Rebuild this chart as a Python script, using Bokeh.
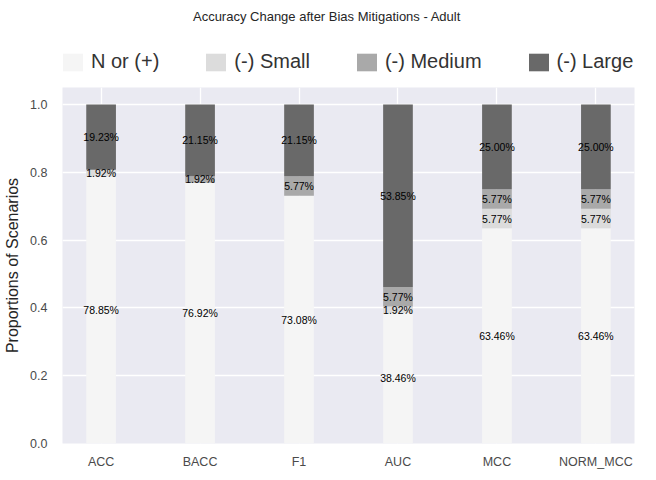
from bokeh.plotting import figure
from bokeh.layouts import column
from bokeh.models import (ColumnDataSource, Range1d, FixedTicker, PrintfTickFormatter,
                          Legend, LegendItem, Label)
from bokeh.core.properties import value
from bokeh.embed import file_html
from bokeh.resources import INLINE
import numpy as np

categories = ["ACC", "BACC", "F1", "AUC", "MCC", "NORM_MCC"]
n_or_pos = [78.85, 76.92, 73.08, 38.46, 63.46, 63.46]
small = [1.92, 0.0, 0.0, 1.92, 5.77, 5.77]
medium = [0.0, 1.92, 5.77, 5.77, 5.77, 5.77]
large = [19.23, 21.15, 21.15, 53.85, 25.00, 25.00]
series_names = ["N or (+)", "(-) Small", "(-) Medium", "(-) Large"]
colors = ["#f5f5f5", "#dcdcdc", "#a9a9a9", "#696969"]
y_ticks = [0.0, 0.2, 0.4, 0.6, 0.8, 1.0]
title_text = "Accuracy Change after Bias Mitigations - Adult"

FONT = "Liberation Sans"

series = [n_or_pos, small, medium, large]
keys = ["s0", "s1", "s2", "s3"]
xs = list(range(len(categories)))
data = {"x": xs}
for k, s in zip(keys, series):
    data[k] = [v / 100.0 for v in s]
source = ColumnDataSource(data)
x_lo, x_hi = -0.39, len(categories) - 1 + 0.39

# ---------------- header figure: title + legend ----------------
hf = figure(frame_width=572, frame_height=71, min_border_left=62, min_border_right=6,
            min_border_top=8, min_border_bottom=0,
            x_range=Range1d(x_lo, x_hi), y_range=Range1d(2, 73),
            x_axis_location=None, y_axis_location=None,
            output_backend="svg", toolbar_location=None)
hf.grid.visible = False
hf.outline_line_color = None
hf.background_fill_color = "white"
hf.border_fill_color = "white"

hf.add_layout(Label(x=(x_lo + x_hi) / 2.0, y=65, x_offset=-21.5, text=title_text,
                    text_align="center", text_baseline="middle", text_font=FONT,
                    text_font_size="13px", text_color="#262626"))

# legend swatches come from the same stacked data (drawn below the visible y range)
dummies = hf.vbar_stack(keys, x="x", width=0.3, source=source, color=colors, line_color=None)
legend = Legend(items=[LegendItem(label=n, renderers=[r]) for n, r in zip(series_names, dummies)],
                orientation="horizontal", location=(-2, 6),
                glyph_width=25, glyph_height=22, label_standoff=6, spacing=44,
                label_text_font=FONT, label_text_font_size="20px", label_text_color="#333333",
                label_height=22, padding=0, margin=0,
                border_line_color=None, background_fill_alpha=0)
hf.add_layout(legend)

# ---------------- main figure ----------------
p = figure(frame_width=572, frame_height=356,
           min_border_left=62, min_border_right=6, min_border_top=8, min_border_bottom=21,
           x_range=Range1d(x_lo, x_hi), y_range=Range1d(0, 1.05),
           output_backend="svg", toolbar_location=None)

p.background_fill_color = "#eaeaf2"
p.border_fill_color = "white"
p.outline_line_color = None

renderers = p.vbar_stack(keys, x="x", width=0.3, source=source, color=colors, line_color=None)

# labels at segment centres
arr = np.array(series) / 100.0
cum = np.cumsum(arr, axis=0)
lx, ly, lt = [], [], []
for i in range(arr.shape[0]):
    for j in range(arr.shape[1]):
        if arr[i, j] > 0:
            lx.append(xs[j])
            ly.append(cum[i, j] - arr[i, j] / 2.0)
            lt.append("%.2f%%" % series[i][j])
lsrc = ColumnDataSource(dict(x=lx, y=ly, t=lt))
p.text(x="x", y="y", text="t", source=lsrc, text_align="center", text_baseline="middle",
       text_font_size="10.5px", text_color="black", text_font=value(FONT))

# axes
p.xaxis.ticker = FixedTicker(ticks=xs)
p.xaxis.major_label_overrides = {i: c for i, c in enumerate(categories)}
p.yaxis.ticker = FixedTicker(ticks=y_ticks)
p.yaxis.formatter = PrintfTickFormatter(format="%.1f")
for ax in (p.xaxis, p.yaxis):
    ax.axis_line_color = None
    ax.major_tick_line_color = None
    ax.minor_tick_line_color = None
    ax.major_label_text_font = FONT
    ax.major_label_text_font_size = "12.5px"
    ax.major_label_text_color = "#4a4a4a"
p.xaxis.major_label_standoff = 5
p.yaxis.major_label_standoff = 9
p.yaxis.axis_label = "Proportions of Scenarios"
p.yaxis.axis_label_text_font = FONT
p.yaxis.axis_label_text_font_size = "16px"
p.yaxis.axis_label_text_font_style = "normal"
p.yaxis.axis_label_text_color = "#262626"
p.yaxis.axis_label_standoff = 6

p.xgrid.grid_line_color = "white"
p.ygrid.grid_line_color = "white"
p.xgrid.grid_line_width = 1.3
p.ygrid.grid_line_width = 1.3
p.xgrid.ticker = FixedTicker(ticks=xs)
p.ygrid.ticker = FixedTicker(ticks=y_ticks)

layout = column(hf, p, spacing=0)
open("out.html", "w").write(file_html(layout, INLINE))
